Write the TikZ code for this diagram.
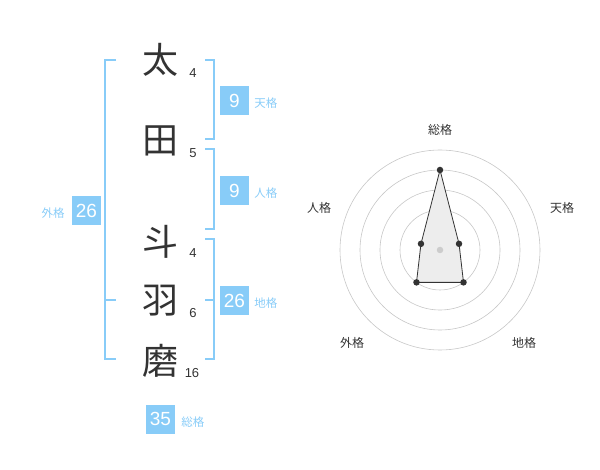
\documentclass[tikz,border=0pt]{standalone}
\usepackage{fontspec}
\setmainfont{Liberation Sans}
\newfontfamily\jpfont{Noto Sans CJK JP}
\usepackage{xcolor}
\usetikzlibrary{positioning}
\definecolor{kakublue}{HTML}{88CCF8}
\definecolor{ink}{HTML}{333333}
\tikzset{kanji/.style = {text=ink, inner sep=0pt, font=\jpfont\fontsize{36}{36}\selectfont},
         strokes/.style = {text=ink, inner sep=0pt, font=\fontsize{13}{13}\selectfont},
         kaku/.style = {fill=kakublue, text=white, inner sep=0pt, minimum size=29pt, font=\fontsize{19}{19}\selectfont},
         kakulabel/.style = {text=kakublue, inner sep=0pt, font=\jpfont\fontsize{11.5}{11.5}\selectfont},
         bracket/.style = {draw=kakublue, line width=2pt},
         ring/.style = {draw=black!22, line width=0.6pt},
         dot/.style = {circle, fill=ink, inner sep=0pt, minimum size=6.5pt},
         axis/.style = {text=ink, inner sep=0pt, font=\jpfont\fontsize{12}{12}\selectfont}}

\begin{document}
\begin{tikzpicture}[x=1pt, y=-1pt]
    \useasboundingbox (0,0) rectangle (600,470);

    % name
    \node [kanji] (k1) at (160,  60) {太};
    \node [kanji] (k2) at (160, 141) {田};
    \node [kanji] (k3) at (160, 242) {斗};
    \node [kanji] (k4) at (160, 301) {羽};
    \node [kanji] (k5) at (160, 361) {磨};

    \node [strokes] (s1) at (193,  73) {4};
    \node [strokes] (s2) at (193, 153) {5};
    \node [strokes] (s3) at (193, 253) {4};
    \node [strokes] (s4) at (193, 313) {6};
    \node [strokes] (s5) at (192, 373) {16};

    % brackets
    \draw [bracket] (116,  60) -- (105,  60) -- (105, 359) -- (116, 359);
    \draw [bracket] (105, 300) -- (116, 300);
    \draw [bracket] (205,  60) -- (214,  60) -- (214, 139) -- (205, 139);
    \draw [bracket] (205, 149) -- (214, 149) -- (214, 229) -- (205, 229);
    \draw [bracket] (205, 239) -- (214, 239) -- (214, 359) -- (205, 359);
    \draw [bracket] (205, 300) -- (214, 300);

    % kaku
    \node [kaku, label={[kakulabel, label distance=5pt, yshift=-3pt]right:天格}] (ten) at (234.5, 100.5) {9};
    \node [kaku, label={[kakulabel, label distance=5pt, yshift=-3pt]right:人格}] (jin) at (234.5, 190.5) {9};
    \node [kaku, label={[kakulabel, label distance=5pt, yshift=-3pt]right:地格}] (chi) at (234.5, 300.5) {26};
    \node [kaku, label={[kakulabel, label distance=7pt, yshift=-3pt]left:外格}]  (gai) at (86.5, 210.5)  {26};
    \node [kaku, label={[kakulabel, label distance=6pt, yshift=-3pt]right:総格}] (sou) at (160.5, 419)   {35};

    % radar
    \begin{scope}[shift={(440,250)}, y=1pt]
        \foreach \r in {20,40,...,100}
            \draw [ring] (0,0) circle [radius=\r pt];
        \coordinate (rsou) at (90:80);
        \coordinate (rten) at (18:20);
        \coordinate (rchi) at (-54:40);
        \coordinate (rgai) at (-126:40);
        \coordinate (rjin) at (162:20);
        \filldraw [fill=black!7, draw=ink, line width=0.8pt] (rsou) -- (rten) -- (rchi) -- (rgai) -- (rjin) -- cycle;
        \node [circle, fill=black!20, inner sep=0pt, minimum size=6.5pt] (rc) at (0,0) {};
        \foreach \p in {rsou,rten,rchi,rgai,rjin}
            \node [dot] at (\p) {};
    \end{scope}

    \node [axis] (asou) at (440, 130) {総格};
    \node [axis] (aten) at (562, 208) {天格};
    \node [axis] (achi) at (524, 343) {地格};
    \node [axis] (agai) at (352, 343) {外格};
    \node [axis] (ajin) at (319, 208) {人格};
\end{tikzpicture}
\end{document}
